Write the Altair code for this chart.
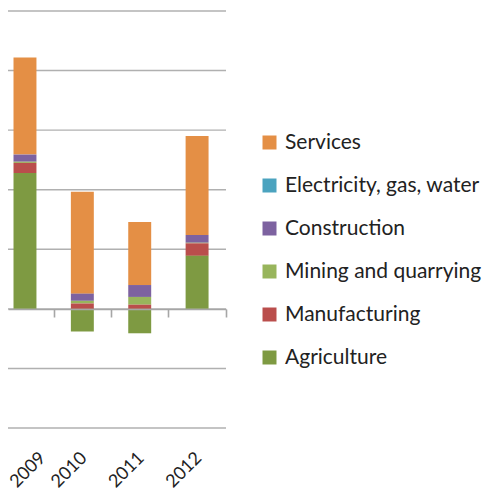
import altair as alt
import pandas as pd

years = ["2009", "2010", "2011", "2012"]
sectors = ["Services", "Electricity, gas, water", "Construction",
           "Mining and quarrying", "Manufacturing", "Agriculture"]
colors = ["#E48F45", "#4BA3BF", "#7D62A0", "#98B55C", "#BA4E4C", "#7E9A42"]
grid_values = [-2, -1, 0, 1, 2, 3, 4, 5]

services = [1.63, 1.71, 1.06, 1.66]
electricity = [0.0, 0.0, 0.0, 0.0]
construction = [0.12, 0.12, 0.20, 0.13]
mining = [0.02, 0.045, 0.13, 0.01]
manufacturing = [0.17, 0.09, 0.07, 0.21]
agriculture = [2.28, -0.38, -0.41, 0.89]

series = {
    "Services": services,
    "Electricity, gas, water": electricity,
    "Construction": construction,
    "Mining and quarrying": mining,
    "Manufacturing": manufacturing,
    "Agriculture": agriculture,
}
stack_rank = {s: i for i, s in enumerate(reversed(sectors))}

rows = []
for s in sectors:
    for y, v in zip(years, series[s]):
        rows.append({"year": y, "sector": s, "value": v, "rank": stack_rank[s]})
df = pd.DataFrame(rows)
df_years = pd.DataFrame({"year": years})
df_grid = pd.DataFrame({"g": grid_values})

W, H = 218, 417
xscale = alt.Scale(paddingInner=0.6, paddingOuter=0.2, align=0.24)
yscale = alt.Scale(domain=[-2, 5], nice=False, zero=False)

grid = alt.Chart(df_grid).mark_rule(color="#B0B0B0", strokeWidth=1.4).encode(
    y=alt.Y("g:Q", scale=yscale, axis=None),
    x=alt.value(0), x2=alt.value(W),
)

bars = alt.Chart(df).mark_bar().encode(
    x=alt.X("year:N", scale=xscale, sort=years, axis=alt.Axis(
        title=None, domain=False, ticks=False, tickSize=0, grid=False,
        labelAngle=-45, labelAlign="right", labelBaseline="middle",
        labelPadding=27,
        labelOffset={"condition": {"test": "datum.value == '2009'", "value": 18},
                     "value": 2},
        labelFont="Lato", labelFontSize=18, labelColor="#222222",
        orient="bottom")),
    y=alt.Y("value:Q", scale=yscale, stack="zero", axis=None),
    color=alt.Color("sector:N", scale=alt.Scale(domain=sectors, range=colors),
                    legend=alt.Legend(
                        orient="none", legendX=251, legendY=121, title=None,
                        symbolType="square", symbolSize=196,
                        symbolStrokeWidth=0, symbolOpacity=1,
                        labelFont="Lato", labelFontSize=21, labelLimit=240,
                        labelColor="#222222", labelOffset=5,
                        rowPadding=21, padding=0)),
    order=alt.Order("rank:Q", sort="ascending"),
)

ticks_layer = alt.Chart(df_years).mark_point(opacity=0).encode(
    x=alt.X("year:N", scale=xscale, sort=years, axis=alt.Axis(
        title=None, labels=False, domain=True, ticks=True, grid=False,
        domainColor="#A6A6A6", domainWidth=1.6, tickColor="#A6A6A6",
        tickWidth=1.6, tickSize=8, tickOffset=28.7, offset=-119,
        orient="bottom", zindex=1)),
    y=alt.value(0),
)

chart = alt.layer(grid, bars, ticks_layer).resolve_axis(x="independent").properties(
    width=W, height=H,
    autosize=alt.AutoSizeParams(type="none"),
    padding={"left": 0, "top": 3, "right": 260, "bottom": 63},
).configure_view(stroke=None)

chart.save("out.html", embed_options={"renderer": "svg", "actions": False})
